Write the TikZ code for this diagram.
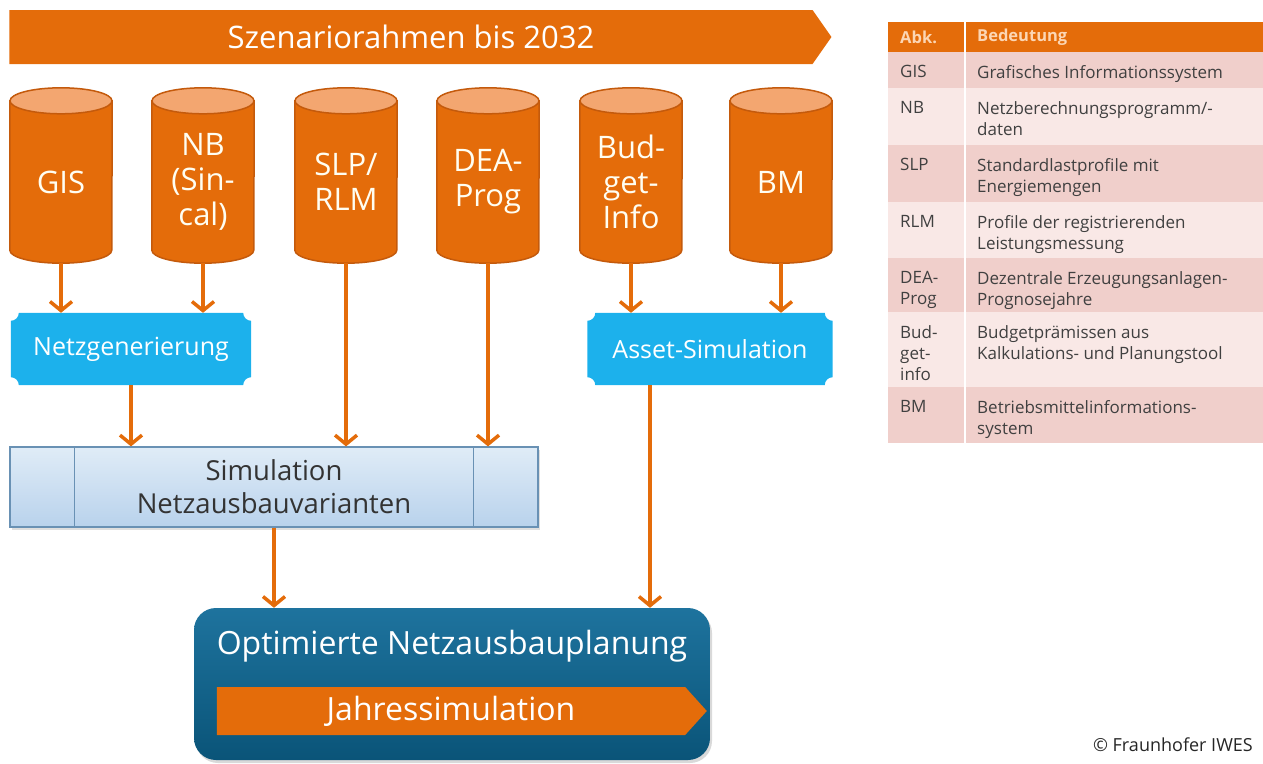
\documentclass[tikz,border=0pt]{standalone}
\usepackage{fontspec}
\setmainfont{Open Sans}
\usetikzlibrary{shapes.geometric,shapes.symbols,arrows.meta,backgrounds,calc,shadows,positioning}

\definecolor{iwesorange}{RGB}{228,108,10}
\definecolor{cyldark}{RGB}{196,90,12}
\definecolor{cyltop}{RGB}{243,166,112}
\definecolor{plaqueblue}{RGB}{28,177,236}
\definecolor{simtop}{RGB}{224,236,247}
\definecolor{simbot}{RGB}{184,210,236}
\definecolor{simline}{RGB}{105,145,180}
\definecolor{opttop}{RGB}{30,115,158}
\definecolor{optbot}{RGB}{10,84,120}
\definecolor{rowdark}{RGB}{240,207,203}
\definecolor{rowlight}{RGB}{249,232,230}
\definecolor{headtext}{RGB}{252,214,180}
\definecolor{tabtext}{RGB}{64,64,64}

\tikzstyle{db}=[rectangle, minimum width=102, minimum height=136, inner sep=0pt, text=white!95!yellow, align=center, font=\fontsize{31}{35}\selectfont]
\tikzstyle{flow} = [draw=iwesorange, line width=3.5pt, -{Straight Barb[length=9pt,width=22pt]}]
\tikzstyle{banner}=[signal, signal to=east, signal pointer angle=110, fill=iwesorange, text=white, inner sep=0pt]
\tikzstyle{plaque}=[rectangle, minimum height=72, inner sep=0pt, text=white, font=\fontsize{25}{29}\selectfont]
\tikzstyle{simbox}=[rectangle, draw=simline, line width=1.2pt, top color=simtop, bottom color=simbot, minimum width=528, minimum height=80, inner sep=0pt, align=center, text=black!80, font=\fontsize{27.5}{33}\selectfont, drop shadow={opacity=0.25, shadow xshift=2pt, shadow yshift=-3pt}]
\tikzstyle{tabcell}=[anchor=north west, inner sep=0pt, align=left, text=tabtext, font=\fontsize{17}{21}\selectfont]
\tikzstyle{headcell}=[anchor=west, inner sep=0pt, text=headtext, font=\bfseries\fontsize{16.5}{18}\selectfont]

\newcommand{\plaquebg}[1]{%
  \fill[plaqueblue] ($(#1.north west)+(8,0)$) -- ($(#1.north east)+(-8,0)$)
    arc[start angle=180, end angle=270, radius=8pt] -- ($(#1.south east)+(0,8)$)
    arc[start angle=90, end angle=180, radius=8pt] -- ($(#1.south west)+(8,0)$)
    arc[start angle=0, end angle=90, radius=8pt] -- ($(#1.north west)+(0,-8)$)
    arc[start angle=270, end angle=360, radius=8pt] -- cycle;}

\newcommand{\dbbg}[1]{%
  \filldraw[fill=iwesorange, draw=cyldark, line width=1.5pt] ($(#1.north west)+(0,13)$) -- (#1.south west)
    arc[start angle=180, end angle=360, x radius=51pt, y radius=13pt] -- ($(#1.north east)+(0,13)$) -- cycle;
  \filldraw[fill=cyltop, draw=cyldark, line width=1.5pt] ($(#1.north)+(0,13)$) ellipse[x radius=51pt, y radius=13pt];}

\begin{document}
\begin{tikzpicture}[x=1pt, y=1pt]

 \useasboundingbox (0,0) rectangle (1263,-763);

 %Szenariorahmen
 \node[banner, minimum width=822, minimum height=54, font=\fontsize{31}{35}\selectfont] (frame) at (411,-37) {Szenariorahmen bis 2032};

 %Datenquellen
 \foreach \x/\name/\label in {61/gis/GIS, 203/nb/{NB\\(Sin-\\cal)}, 346/slp/{SLP/\\RLM}, 488/dea/{DEA-\\Prog}, 631/budget/{Bud-\\get-\\Info}, 781/bm/BM}
 {
        \node[db] (\name) at (\x,-182) {\label};
        \begin{scope}[on background layer]
          \dbbg{\name}
        \end{scope}
 }

 %Netzgenerierung + Asset-Simulation
 \node[plaque, minimum width=240] (netz) at (131,-349) {Netzgenerierung};
 \node[plaque, minimum width=245] (asset) at (710,-349) {Asset-Simulation};
 \begin{scope}[on background layer]
   \plaquebg{netz}
   \plaquebg{asset}
 \end{scope}

 %Simulation
 \node[simbox] (sim) at (274,-487) {Simulation\\Netzausbauvarianten};
 \draw[simline, line width=1.2pt] ($(sim.north west)+(65,0)$) -- ($(sim.south west)+(65,0)$);
 \draw[simline, line width=1.2pt] ($(sim.north east)+(-65,0)$) -- ($(sim.south east)+(-65,0)$);

 %Optimierte Netzausbauplanung
 \node[rectangle, rounded corners=22pt, top color=opttop, bottom color=optbot, minimum width=516, minimum height=152, drop shadow={opacity=0.3, shadow xshift=2pt, shadow yshift=-3pt}] (opt) at (452,-684) {};
 \node[text=white, font=\fontsize{32}{36}\selectfont] (optlabel) at (452,-646) {Optimierte Netzausbauplanung};
 \node[banner, minimum width=490, minimum height=48, signal pointer angle=96, font=\fontsize{32}{36}\selectfont] (jahr) at (451,-711) {Jahressimulation};

 %Pfeile
 \foreach \source/\dest in {gis/netz, nb/netz, budget/asset, bm/asset, slp/sim, dea/sim}
        \draw[flow, shorten <=13pt] (\source.south) -- (\source.south |- \dest.north);
 \draw[flow] (netz.south) -- (netz.south |- sim.north);
 \draw[flow] (sim.south) -- (sim.south |- opt.north);
 \draw[flow] ($(asset.south)+(-60,0)$) -- ($(asset.south |- opt.north)+(-60,0)$);

 %Tabelle
 \fill[iwesorange] (888,-22) rectangle (1263,-52);
 \node[headcell] (hAbk) at (900,-37) {Abk.};
 \node[headcell] (hBed) at (977,-37) {Bedeutung};

 \foreach \ya/\yb/\col/\name/\abk/\txt in {52/88/rowdark/gis/GIS/{Grafisches Informationssystem},
        88/145/rowlight/nb/NB/{Netzberechnungsprogramm/-\\daten},
        145/202/rowdark/slp/SLP/{Standardlastprofile mit\\Energiemengen},
        202/258/rowlight/rlm/RLM/{Profile der registrierenden\\Leistungsmessung},
        258/312/rowdark/dea/{DEA-\\Prog}/{Dezentrale Erzeugungsanlagen-\\Prognosejahre},
        312/387/rowlight/budget/{Bud-\\get-\\info}/{Budgetprämissen aus\\Kalkulations- und Planungstool},
        387/443/rowdark/bm/BM/{Betriebsmittelinformations-\\system}}
 {
   \fill[\col] (888,-\ya) rectangle (1263,-\yb);
   \draw[white, line width=1pt] (888,-\yb) -- (1263,-\yb);
   \node[tabcell] (abk\name) at (900,-\ya-13) {\abk};
   \node[tabcell] (bed\name) at (977,-\ya-13) {\txt};
 }
 \draw[white, line width=2pt] (965,-22) -- (965,-443);

 \node[anchor=east, inner sep=0pt, text=black!85, font=\fontsize{18}{20}\selectfont] (credit) at (1253,-745) {\textcopyright\ Fraunhofer IWES};

\end{tikzpicture}
\end{document}
